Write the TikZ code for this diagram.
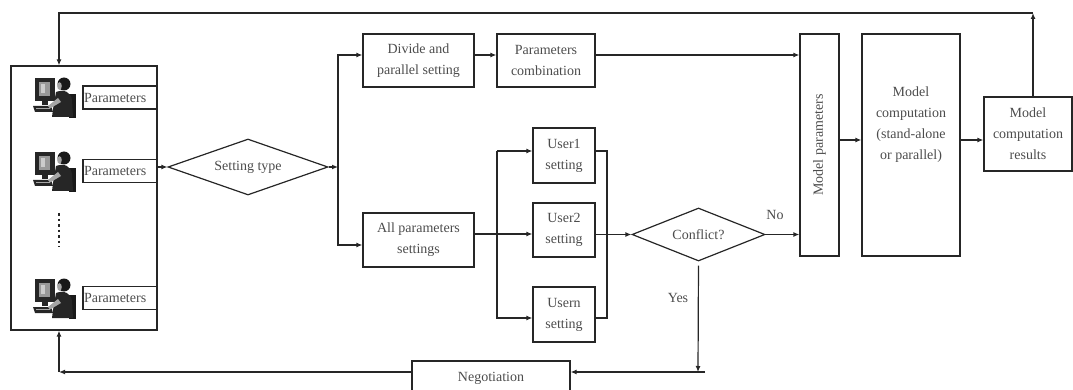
\documentclass[tikz,border=0pt]{standalone}
\usepackage{fontspec}
\setmainfont{Liberation Serif}
\usetikzlibrary{shapes.geometric,arrows.meta}
\newcommand\figfont{\fontsize{14}{21}\selectfont}
\begin{document}
\begin{tikzpicture}[x=1pt,y=-1pt,
  box/.style={draw=black!85, line width=1.2pt, align=center, inner sep=0pt, font=\figfont, text=black!70},
  parbox/.style={box, text width=72pt, align=left, inner xsep=1pt, minimum height=23pt},
  dec/.style={box, shape=diamond},
  txt/.style={align=center, inner sep=0pt, font=\figfont, text=black!70},
  link/.style={draw=black!85, line width=1.2pt},
  arr/.style={link, -{Latex[length=6pt,width=5pt]}},
  deskuser/.pic={
    % monitor
    \fill[black!85] (-20,-19) rectangle (0,4);
    \fill[black!40] (-16,-15) rectangle (-5,-1);
    \fill[black!20] (-14,-13) rectangle (-10,-4);
    \fill[black!85] (-13,4) rectangle (-7,8);
    % keyboard
    \fill[black!85] (-22,9) -- (-4,9) -- (-2,15) -- (-20,15) -- cycle;
    \draw[black!35, line width=0.6pt] (-19,11.5) -- (-5,11.5);
    % chair
    \fill[black!90] (14,-3) rectangle (21,21);
    % body and arm
    \fill[black!85] (1,-5) .. controls (9,-8) and (16,-5) .. (17,3) -- (18,20) -- (-3,20) -- (-2,12) -- cycle;
    \fill[black!35] (3,1) -- (-7,9) -- (-5,11.5) -- (6,5) -- cycle;
    % head
    \fill[black!90] (9,-13) circle (6.5);
    \fill[black!35] (4.5,-11) ellipse (2.3 and 3.8);
  },
]
\useasboundingbox (0,0) rectangle (1073,390);
\clip (0,0) rectangle (1073,390);

% users panel
\node[box, minimum width=146pt, minimum height=264pt] (users) at (84,198) {};
\node[parbox] (p1) at (120,97.5) {Parameters};
\node[parbox] (p2) at (120,171) {Parameters};
\node[parbox] (p3) at (120,298) {Parameters};
\pic at (55,97) {deskuser};
\pic at (55,171) {deskuser};
\pic at (55,298) {deskuser};
\draw[black!85, line width=1.5pt, dash pattern=on 2.5pt off 3pt] (59,213) -- (59,247);

% decisions and processing boxes
\node[dec, aspect=2.86, minimum width=160pt, minimum height=56pt] (stype) at (248,167) {Setting type};
\node[box, minimum width=111pt, minimum height=53pt] (divide) at (418.5,60.5) {Divide and\\parallel setting};
\node[box, minimum width=98pt, minimum height=53pt] (combo) at (546,60.5) {Parameters\\combination};
\node[box, minimum width=111pt, minimum height=54pt] (allpar) at (418.5,240) {All parameters\\settings};
\node[box, minimum width=62pt, minimum height=55pt] (u1) at (564,155.5) {User1\\setting};
\node[box, minimum width=62pt, minimum height=54pt] (u2) at (564,230) {User2\\setting};
\node[box, minimum width=62pt, minimum height=55pt] (un) at (564,314.5) {Usern\\setting};
\node[dec, aspect=2.5, minimum width=133pt, minimum height=53pt] (conf) at (698.5,234.5) {Conflict?};
\node[box, minimum width=39pt, minimum height=222pt] (mp) at (819.5,145) {};
\node[txt, rotate=90] (mptext) at (mp.center) {Model parameters};
\node[box, minimum width=98pt, minimum height=222pt] (mc) at (911,145) {};
\node[txt] (mctext) at (911,125) {Model\\computation\\(stand-alone\\or parallel)};
\node[box, minimum width=88pt, minimum height=74pt] (res) at (1028,134) {Model\\computation\\results};
\node[box, minimum width=158pt, minimum height=34pt] (neg) at (491,378) {Negotiation};

% bend points
\coordinate (tr) at (1033,13);
\coordinate (tl) at (59,13);
\coordinate (bA) at (338,167);
\coordinate (bL1) at (497,151);
\coordinate (bL2) at (497,318);
\coordinate (bR1) at (607,151);
\coordinate (bR2) at (607,318);
\coordinate (cb) at (698,372);
\coordinate (bl) at (59,372);

% feedback from results to the users
\draw[arr] (tr |- res.north) -- (tr);
\draw[arr] (tr) -- (tl) -- (tl |- users.north);

% setting type branches
\draw[arr] (stype.west -| users.east) -- (stype.west);
\draw[arr] (stype.east) -- (bA);
\draw[arr] (bA) |- (divide.west |- 0,55);
\draw[arr] (bA) |- (allpar.west |- 0,245);
\draw[arr] (divide.east |- 0,55) -- (combo.west |- 0,55);
\draw[arr] (combo.east |- 0,55) -- (mp.west |- 0,55);

% individual user settings
\draw[arr] (allpar.east |- 0,234) -- (u2.west |- 0,234);
\draw[arr] (bL1) -- (u1.west |- bL1);
\draw[arr] (bL1) -- (bL2) -- (un.west |- bL2);
\draw[link] (u1.east |- bR1) -- (bR1) -- (bR2) -- (un.east |- bR2);
\draw[arr] (u2.east |- conf.west) -- (conf.west);

% conflict check
\draw[arr] (conf.east) -- (mp.west |- conf.east);
\node[txt] (nolabel) at (775,215) {No};
\draw[arr, shorten <=4pt] (conf.south) -- (cb);
\node[txt] (yeslabel) at (678,298) {Yes};
\draw[arr] ([xshift=7pt]cb) -- (neg.east |- cb);
\draw[arr] (neg.west |- bl) -- (bl);
\draw[arr] (bl) -- (bl |- users.south);

% model computation chain
\draw[arr] (mp.east |- 0,140) -- (mc.west |- 0,140);
\draw[arr] (mc.east |- 0,140) -- (res.west |- 0,140);
\end{tikzpicture}
\end{document}
